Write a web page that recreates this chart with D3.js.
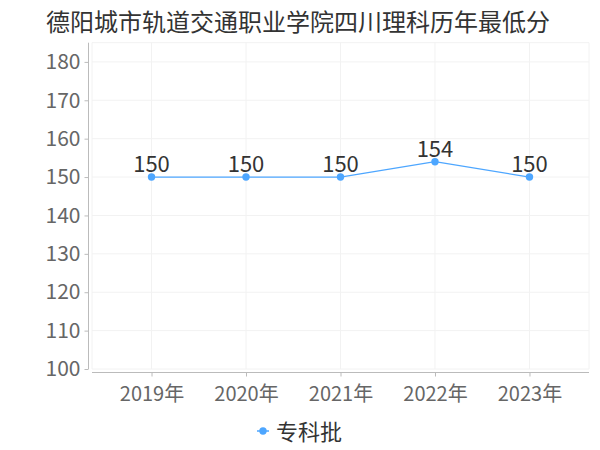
<!DOCTYPE html>
<html><head><meta charset="utf-8">
<script src="https://cdn.jsdelivr.net/npm/d3@7/dist/d3.min.js"></script>
<style>body{margin:0;background:#fff}svg{display:block}</style>
</head><body>
<svg id="c" width="600" height="450"></svg>
<script>
const title = "德阳城市轨道交通职业学院四川理科历年最低分";
const categories = ["2019年","2020年","2021年","2022年","2023年"];
const values = [150,150,150,154,150];
const seriesName = "专科批";
const yTicks = [100,110,120,130,140,150,160,170,180];

const font = "'Noto Sans CJK SC','Noto Sans',sans-serif";
const color = "#4da6ff";
const svg = d3.select("#c");

const x = d3.scalePoint().domain(categories).range([92,589]).padding(0.63);
const y = d3.scaleLinear().domain([100,185]).range([369,42.7]);

// grid
const g = svg.append("g");
g.selectAll(".hg").data(yTicks.concat([185])).join("line")
  .attr("x1",92).attr("x2",589).attr("y1",d=>y(d)).attr("y2",d=>y(d))
  .attr("stroke","#f2f2f2").attr("stroke-width",1);
g.selectAll(".vg").data([92].concat(categories.map(c=>x(c))).concat([589])).join("line")
  .attr("x1",d=>d).attr("x2",d=>d).attr("y1",y(185)).attr("y2",369)
  .attr("stroke","#f2f2f2").attr("stroke-width",1);

// y axis
const ya = svg.append("g").attr("transform","translate(88.5,0)")
  .call(d3.axisLeft(y).tickValues(yTicks).tickSize(4).tickPadding(4));
ya.select(".domain").attr("stroke","#bbb").attr("d",`M-0,${y(185)}V${369}`);
ya.selectAll(".tick line").attr("stroke","#bbb");
ya.selectAll("text").attr("fill","#666").style("font-family",font).style("font-size","21px");

// x axis
const xa = svg.append("g").attr("transform","translate(0,372.5)")
  .call(d3.axisBottom(x).tickSize(4).tickPadding(10));
xa.select(".domain").attr("stroke","#bbb").attr("d","M92,0H589");
xa.selectAll(".tick line").attr("stroke","#bbb");
xa.selectAll("text").attr("fill","#666").style("font-family",font).style("font-size","20px");

// line
const data = categories.map((c,i)=>({c,v:values[i]}));
svg.append("path").datum(data)
  .attr("d", d3.line().x(d=>x(d.c)).y(d=>y(d.v)))
  .attr("fill","none").attr("stroke",color).attr("stroke-width",1.2);
svg.selectAll(".pt").data(data).join("circle")
  .attr("cx",d=>x(d.c)).attr("cy",d=>y(d.v)).attr("r",3.7).attr("fill",color);
svg.selectAll(".lbl").data(data).join("text")
  .attr("x",d=>x(d.c)).attr("y",d=>y(d.v)-5).attr("text-anchor","middle")
  .attr("fill","#333").style("font-family",font).style("font-size","22px")
  .text(d=>d.v);

// title
svg.append("text").attr("x",298).attr("y",31).attr("text-anchor","middle")
  .attr("fill","#333").style("font-family",font).style("font-size","24px").text(title);

// legend
const lg = svg.append("g");
lg.append("line").attr("x1",257).attr("x2",269).attr("y1",431).attr("y2",431).attr("stroke",color).attr("stroke-width",1.5);
lg.append("circle").attr("cx",263).attr("cy",431).attr("r",3.7).attr("fill",color);
lg.append("text").attr("x",276).attr("y",440).attr("fill","#333")
  .style("font-family",font).style("font-size","22px").text(seriesName);
</script>
</body></html>
